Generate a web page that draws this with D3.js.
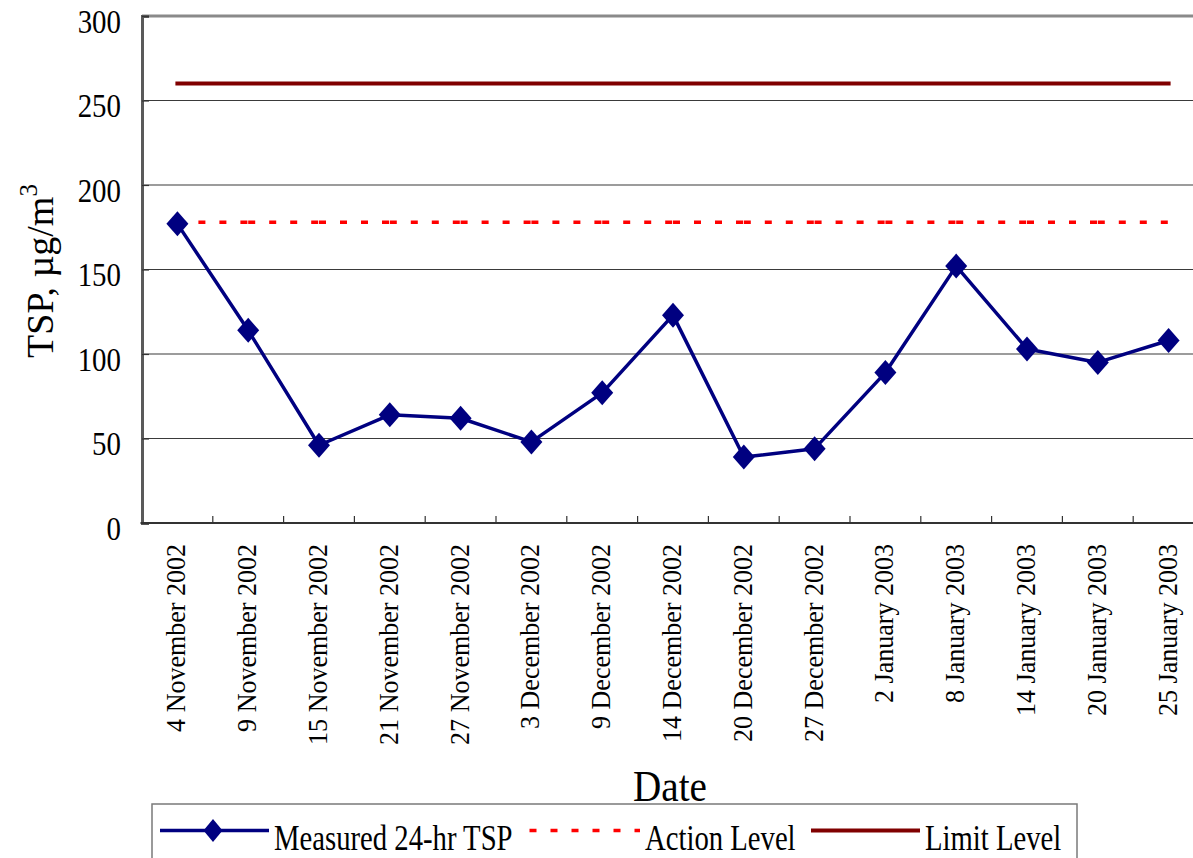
<!DOCTYPE html>
<html>
<head>
<meta charset="utf-8">
<script src="https://cdn.jsdelivr.net/npm/d3@7"></script>
<style>
  html, body { margin: 0; padding: 0; background: #fff; overflow: hidden; }
  svg { display: block; }
  text { font-family: "Liberation Serif", "Times New Roman", serif; fill: #000; }
</style>
</head>
<body>
<svg id="chart" width="1193" height="858"></svg>
<script>
// Sampling dates (category axis)
const dates = [
  "4 November 2002", "9 November 2002", "15 November 2002", "21 November 2002",
  "27 November 2002", "3 December 2002", "9 December 2002", "14 December 2002",
  "20 December 2002", "27 December 2002", "2 January 2003", "8 January 2003",
  "14 January 2003", "20 January 2003", "25 January 2003"
];
// Measured 24-hr TSP, µg/m3
const tsp = [177, 114, 46, 64, 62, 48, 77, 123, 39, 44, 89, 152, 103, 95, 108];
// Compliance levels, µg/m3
const actionLevel = dates.map(() => 178);
const limitLevel = dates.map(() => 260);
// Value axis ticks
const yTicks = [0, 50, 100, 150, 200, 250, 300];
const legendLabels = ["Measured 24-hr TSP", "Action Level", "Limit Level"];

const svg = d3.select("#chart");

const plot = { left: 142, top: 16, bottom: 523, band: 70.8 };
const x = d3.scaleBand()
  .domain(dates)
  .range([plot.left, plot.left + plot.band * dates.length])
  .paddingInner(0).paddingOuter(0);
const y = d3.scaleLinear().domain([0, 300]).range([plot.bottom, plot.top]);
const cx = d => x(d) + x.bandwidth() / 2;

const NAVY = "#000080", RED = "#ff0000", MAROON = "#800000";

// Horizontal gridlines
svg.append("g")
  .selectAll("line")
  .data(yTicks.filter(v => v > 0 && v < 300))
  .join("line")
  .attr("x1", plot.left).attr("x2", 1193)
  .attr("y1", d => y(d)).attr("y2", d => y(d))
  .attr("stroke", "#3a3a3a").attr("stroke-width", 1.1);

// Plot frame top edge
svg.append("line")
  .attr("x1", plot.left).attr("x2", 1193)
  .attr("y1", y(300)).attr("y2", y(300))
  .attr("stroke", "#8a8a8a").attr("stroke-width", 3);

// Y axis with inward ticks
const yAxis = d3.axisRight(y).tickValues(yTicks).tickSize(7).tickFormat("");
const gy = svg.append("g").attr("transform", `translate(${plot.left},0)`).call(yAxis);
gy.select(".domain").attr("stroke", "#5a5a5a").attr("stroke-width", 3);
gy.selectAll(".tick line").attr("stroke", "#333").attr("stroke-width", 1.2);

// Y tick labels (condensed serif)
svg.append("g")
  .selectAll("text")
  .data(yTicks)
  .join("text")
  .attr("transform", d => `translate(121,${y(d) + 16.5}) scale(0.85,1)`)
  .attr("text-anchor", "end")
  .attr("font-size", 34)
  .text(d => d);

// X axis with inward ticks at band boundaries
const boundaries = dates.slice(1).map(d => x(d));
svg.append("g")
  .selectAll("line")
  .data(boundaries)
  .join("line")
  .attr("x1", d => d).attr("x2", d => d)
  .attr("y1", plot.bottom - 7).attr("y2", plot.bottom)
  .attr("stroke", "#333").attr("stroke-width", 1.2);
svg.append("line")
  .attr("x1", plot.left - 1.5).attr("x2", 1193)
  .attr("y1", plot.bottom).attr("y2", plot.bottom)
  .attr("stroke", "#333").attr("stroke-width", 2.2);

// X tick labels, rotated
svg.append("g")
  .selectAll("text")
  .data(dates)
  .join("text")
  .attr("transform", d => `translate(${cx(d) + 8},544) rotate(-90) scale(0.93,1)`)
  .attr("text-anchor", "end")
  .attr("font-size", 28)
  .text(d => d);

// Limit level
svg.append("line")
  .attr("x1", cx(dates[0])).attr("x2", cx(dates[dates.length - 1]))
  .attr("y1", y(limitLevel[0])).attr("y2", y(limitLevel[0]))
  .attr("stroke", MAROON).attr("stroke-width", 4).attr("stroke-linecap", "square");

// Action level, dashed segment by segment
svg.append("g")
  .selectAll("line")
  .data(d3.pairs(dates.map((d, i) => ({ d, v: actionLevel[i] }))))
  .join("line")
  .attr("x1", p => cx(p[0].d)).attr("x2", p => cx(p[1].d))
  .attr("y1", p => y(p[0].v)).attr("y2", p => y(p[1].v))
  .attr("stroke", RED).attr("stroke-width", 3.5)
  .attr("stroke-dasharray", "7,14");

// Measured TSP line
const line = d3.line().x((v, i) => cx(dates[i])).y(v => y(v));
svg.append("path")
  .datum(tsp)
  .attr("d", line)
  .attr("fill", "none")
  .attr("stroke", NAVY).attr("stroke-width", 3.5)
  .attr("stroke-linejoin", "round");

const diamond = (hw, hh) => `M0,${-hh}L${hw},0L0,${hh}L${-hw},0Z`;
svg.append("g")
  .selectAll("path")
  .data(tsp)
  .join("path")
  .attr("transform", (v, i) => `translate(${cx(dates[i])},${y(v)})`)
  .attr("d", diamond(11, 12.5))
  .attr("fill", NAVY);

// Axis titles
const yTitle = svg.append("text")
  .attr("transform", `translate(53,271) rotate(-90)`)
  .attr("text-anchor", "middle")
  .attr("font-size", 38);
yTitle.append("tspan").text("TSP, µg/m");
yTitle.append("tspan").attr("dy", -16).attr("font-size", 25).text("3");

svg.append("text")
  .attr("transform", `translate(670,801) scale(0.87,1)`)
  .attr("text-anchor", "middle")
  .attr("font-size", 45)
  .text("Date");

// Legend
const lg = svg.append("g");
lg.append("rect")
  .attr("x", 152).attr("y", 804).attr("width", 925).attr("height", 80)
  .attr("fill", "#fff").attr("stroke", "#7a7a7a").attr("stroke-width", 1.5);

const legendY = 830.5;
lg.append("line").attr("x1", 160).attr("x2", 269).attr("y1", legendY).attr("y2", legendY)
  .attr("stroke", NAVY).attr("stroke-width", 3.5);
lg.append("path").attr("transform", `translate(213,${legendY})`)
  .attr("d", diamond(9.5, 11.5)).attr("fill", NAVY);
lg.append("line").attr("x1", 529.5).attr("x2", 640).attr("y1", legendY).attr("y2", legendY)
  .attr("stroke", RED).attr("stroke-width", 3.5).attr("stroke-dasharray", "7,14");
lg.append("line").attr("x1", 811).attr("x2", 920).attr("y1", legendY).attr("y2", legendY)
  .attr("stroke", MAROON).attr("stroke-width", 4);

const legendX = [274, 645, 925];
lg.selectAll("text.lbl")
  .data(legendLabels)
  .join("text")
  .attr("class", "lbl")
  .attr("transform", (d, i) => `translate(${legendX[i]},849.5) scale(0.82,1)`)
  .attr("font-size", 35)
  .text(d => d);
</script>
</body>
</html>
